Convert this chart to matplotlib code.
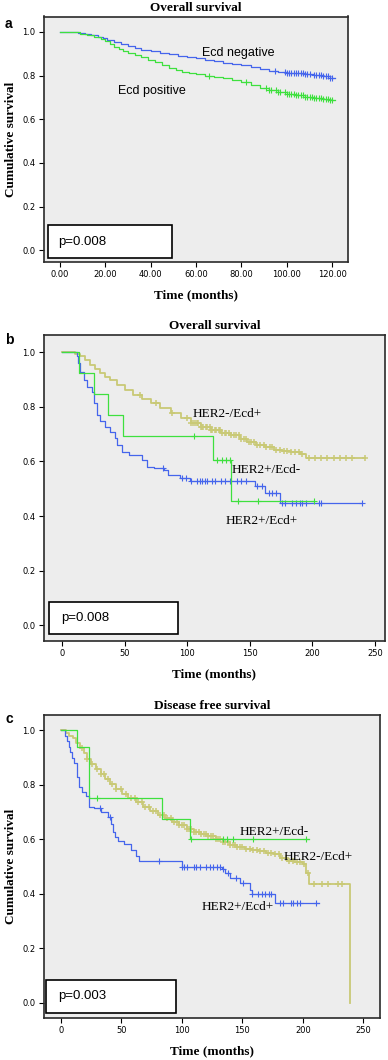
import matplotlib
matplotlib.use('Agg')
import matplotlib.pyplot as plt
from matplotlib.patches import Rectangle
import numpy as np

# ---- panel a: overall survival by Ecd status ----
a_neg_t = [0, 5, 8, 11, 14, 17, 19, 21, 24, 27, 30, 33, 36, 40, 44, 48, 52, 56, 60, 64, 68,
           72, 76, 80, 84, 88, 92, 96, 100, 104, 108, 112, 116, 119, 121]
a_neg_s = [1.0, 0.997, 0.994, 0.99, 0.984, 0.977, 0.97, 0.962, 0.955, 0.945, 0.935, 0.925,
           0.918, 0.91, 0.905, 0.897, 0.89, 0.884, 0.878, 0.87, 0.865, 0.858, 0.852, 0.846,
           0.838, 0.828, 0.822, 0.815, 0.812, 0.81, 0.808, 0.803, 0.797, 0.789, 0.789]
a_neg_c = [94.7, 99, 100, 101, 102, 103, 104, 105, 106, 107, 108, 109, 110, 112, 113, 114,
           115, 116, 117, 118, 119, 120]

a_pos_t = [0, 5, 9, 12, 15, 18, 20, 22, 24, 26, 28, 30, 33, 36, 39, 42, 45, 48, 51, 54, 57,
           60, 64, 68, 72, 76, 80, 84, 88, 92, 96, 100, 104, 108, 112, 116, 119, 121]
a_pos_s = [1.0, 0.997, 0.992, 0.985, 0.975, 0.965, 0.957, 0.945, 0.932, 0.92, 0.912, 0.905,
           0.895, 0.883, 0.873, 0.862, 0.848, 0.835, 0.825, 0.818, 0.812, 0.806, 0.8, 0.793,
           0.787, 0.78, 0.77, 0.758, 0.745, 0.735, 0.725, 0.716, 0.71, 0.704, 0.698, 0.693,
           0.689, 0.689]
a_pos_c = [65.8, 81.8, 91, 92, 93, 95, 96, 97, 99, 100, 101, 102, 103, 104, 105, 106, 107,
           108, 109, 110, 111, 112, 113, 114, 115, 116, 117, 118, 119, 120]

# ---- panel b: overall survival by HER2/Ecd ----
b_pn_t = [0, 13.8, 25.8, 36.5, 48.5, 121, 135, 201]          # HER2+/Ecd-
b_pn_s = [1.0, 0.923, 0.846, 0.769, 0.692, 0.606, 0.454, 0.454]
b_pn_c = [105.7, 124, 128, 131, 134, 140.8, 156.8, 201]

b_pp_t = [0, 11.7, 13, 14.7, 17.3, 20, 24, 25.3, 28, 30.7, 34.7, 38.7, 42, 44, 48, 53.4, 64,
          68, 73.6, 81.5, 85, 94, 102, 154, 162, 174, 240]   # HER2+/Ecd+
b_pp_s = [1.0, 0.985, 0.96, 0.929, 0.898, 0.874, 0.856, 0.813, 0.77, 0.748, 0.727, 0.709,
          0.685, 0.66, 0.636, 0.624, 0.605, 0.581, 0.575, 0.569, 0.55, 0.54, 0.53, 0.51,
          0.483, 0.447, 0.447]
b_pp_c = [80.4, 96, 99, 103, 108, 110, 112, 114, 116, 120, 122, 127, 130, 134, 140, 143, 147,
          156, 160, 165, 168, 171, 176, 178, 184, 187, 190, 192, 195, 205, 207, 240]

b_np_t = [0, 10, 14, 18, 22, 26, 30, 34, 38, 44, 50, 57, 64, 71, 78, 87, 95, 103, 111, 119,
          127, 135, 142, 148, 155, 162, 169, 176, 183, 190, 195, 242]  # HER2-/Ecd+
b_np_s = [1.0, 0.995, 0.985, 0.97, 0.953, 0.94, 0.925, 0.911, 0.897, 0.88, 0.862, 0.844,
          0.828, 0.813, 0.797, 0.777, 0.76, 0.742, 0.727, 0.715, 0.705, 0.695, 0.682, 0.672,
          0.662, 0.652, 0.642, 0.637, 0.633, 0.628, 0.612, 0.612]
b_np_c = [62, 75, 88, 100, 103, 105, 106, 108, 109, 111, 112, 113, 115, 116, 118, 119, 120,
          122, 123, 125, 126, 128, 130, 131, 133, 135, 137, 139, 141, 143, 145, 147, 149, 151,
          153, 156, 158, 161, 163, 166, 168, 171, 174, 177, 180, 183, 186, 189, 192, 197, 202,
          207, 212, 217, 222, 227, 232, 242]

# ---- panel c: disease free survival by HER2/Ecd ----
c_pn_t = [0, 13.7, 23.6, 83.4, 106.8, 205]
c_pn_s = [1.0, 0.9375, 0.75, 0.675, 0.60, 0.60]
c_pn_c = [29.6, 107.5, 134, 137, 142.6, 159, 203]

c_pp_t = [0, 3.6, 5, 6.5, 8, 9.5, 11.3, 13.2, 15.4, 18, 20.9, 23.6, 27.7, 33, 38.7, 41.5,
          42.8, 45, 47, 52.4, 58, 62, 65, 100, 133, 136, 140, 148, 156, 158, 177, 213]
c_pp_s = [1.0, 0.98, 0.96, 0.94, 0.92, 0.9, 0.88, 0.83, 0.79, 0.775, 0.76, 0.72, 0.713, 0.70,
          0.68, 0.655, 0.625, 0.61, 0.595, 0.582, 0.56, 0.54, 0.522, 0.50, 0.49, 0.475, 0.457,
          0.44, 0.415, 0.40, 0.366, 0.366]
c_pp_c = [32.5, 41, 81.5, 100, 102, 104, 110, 112, 115, 120, 123, 126, 129, 132, 134, 138,
          145, 151, 158, 163, 166, 169, 172, 174, 181, 184, 190, 192, 195, 198, 211]

c_np_t = [0, 4, 7, 10, 13, 16, 19, 22, 25, 29, 33, 37, 41, 46, 51, 56, 62, 68, 74, 80, 86, 92,
          98, 104, 110, 116, 122, 128, 134, 140, 146, 152, 158, 164, 170, 176, 181, 187, 193,
          200, 203, 205, 239]
c_np_s = [1.0, 0.99, 0.98, 0.97, 0.955, 0.935, 0.915, 0.895, 0.875, 0.857, 0.838, 0.82, 0.803,
          0.785, 0.765, 0.75, 0.735, 0.718, 0.703, 0.69, 0.677, 0.665, 0.652, 0.638, 0.628,
          0.62, 0.612, 0.602, 0.59, 0.578, 0.57, 0.565, 0.56, 0.556, 0.551, 0.545, 0.53, 0.52,
          0.516, 0.51, 0.475, 0.437, 0.0]
c_np_c = [18, 22, 26, 30, 33, 36, 39, 42, 46, 50, 54, 58, 61, 64, 67, 70, 73, 76, 79, 82, 85,
          88, 91, 94, 96, 98, 100, 102, 104, 106, 108, 110, 112, 114, 116, 118, 120, 122, 124,
          126, 128, 130, 132, 134, 136, 138, 140, 142, 144, 146, 148, 150, 153, 156, 159, 162,
          165, 168, 171, 174, 177, 180, 183, 186, 189, 192, 195, 198, 201, 204, 209, 216, 221,
          229, 232]

BLUE = '#4565ec'
GREEN = '#3ee03e'
TAN = '#c9c976'
BG = '#ededed'

serif = 'Liberation Serif'
sans = 'Liberation Sans'


def km(ax, t, s, cens, color, ms=4, lw=0.9, mew=0.8):
    t = np.asarray(t, float)
    s = np.asarray(s, float)
    ax.plot(t, s, drawstyle='steps-post', color=color, lw=lw)
    c = np.asarray(cens, float)
    idx = np.searchsorted(t, c, side='right') - 1
    ax.plot(c, s[idx], ls='none', marker='+', ms=ms, mew=mew, color=color)


def style(ax, xlim, ylim, xticks, xfmt, title, pval, box, ylabel=True):
    ax.set_facecolor(BG)
    ax.set_xlim(*xlim)
    ax.set_ylim(*ylim)
    ax.set_yticks([0.0, 0.2, 0.4, 0.6, 0.8, 1.0])
    ax.set_yticklabels(['%.1f' % v for v in [0.0, 0.2, 0.4, 0.6, 0.8, 1.0]])
    ax.set_xticks(xticks)
    ax.set_xticklabels([xfmt % v for v in xticks])
    ax.tick_params(direction='out', length=3.5, width=0.8, pad=2.5, labelsize=6,
                   top=False, right=False)
    for sp in ax.spines.values():
        sp.set_linewidth(1.2)
        sp.set_color('#2a2a2a')
    ax.set_title(title, family=serif, weight='bold', fontsize=9.5, pad=4)
    ax.set_xlabel('Time (months)', family=serif, weight='bold', fontsize=9.5, labelpad=7)
    if ylabel:
        ax.set_ylabel('Cumulative survival', family=serif, weight='bold', fontsize=9.5,
                      labelpad=4)
    x0, x1, y0, y1 = box
    ax.add_patch(Rectangle((x0, y0), x1 - x0, y1 - y0, transform=ax.transAxes,
                           facecolor='white', edgecolor='black', lw=1.2, zorder=5))
    ax.text(x0 + 0.035, (y0 + y1) / 2, pval, transform=ax.transAxes, family=sans,
            fontsize=9.5, va='center', ha='left', zorder=6)


W, H = 388, 1060
fig = plt.figure(figsize=(W / 100, H / 100), dpi=100)


def add_axes(l, r, t, b):
    return fig.add_axes([l / W, 1 - b / H, (r - l) / W, (b - t) / H])


# panel a
ax1 = add_axes(44, 348, 16.5, 262)
km(ax1, a_neg_t, a_neg_s, a_neg_c, BLUE)
km(ax1, a_pos_t, a_pos_s, a_pos_c, GREEN)
style(ax1, (-6.9, 126.9), (-0.053, 1.07), [0, 20, 40, 60, 80, 100, 120], '%.2f',
      'Overall survival', 'p=0.008', (0.012, 0.42, 0.017, 0.15))
ax1.text(62.6, 0.903, 'Ecd negative', family=sans, fontsize=9, va='center')
ax1.text(25.5, 0.729, 'Ecd positive', family=sans, fontsize=9, va='center')
fig.text(5 / W, 1 - 24 / H, 'a', family=sans, weight='bold', fontsize=10, va='center')

# panel b
ax2 = add_axes(44, 385, 335, 641)
km(ax2, b_np_t, b_np_s, b_np_c, TAN, ms=5, lw=1.3, mew=1.1)
km(ax2, b_pp_t, b_pp_s, b_pp_c, BLUE)
km(ax2, b_pn_t, b_pn_s, b_pn_c, GREEN)
style(ax2, (-14.4, 258.0), (-0.0575, 1.063), [0, 50, 100, 150, 200, 250], '%d',
      'Overall survival', 'p=0.008', (0.0155, 0.393, 0.022, 0.128), ylabel=False)
ax2.text(104.4, 0.774, 'HER2-/Ecd+', family=serif, fontsize=9.5, va='center')
ax2.text(135.5, 0.569, 'HER2+/Ecd-', family=serif, fontsize=9.5, va='center')
ax2.text(131, 0.382, 'HER2+/Ecd+', family=serif, fontsize=9.5, va='center')
fig.text(5 / W, 1 - 340 / H, 'b', family=sans, weight='bold', fontsize=10, va='center')

# panel c
ax3 = add_axes(44, 380, 715, 1018)
km(ax3, c_np_t, c_np_s, c_np_c, TAN, ms=5, lw=1.3, mew=1.1)
km(ax3, c_pp_t, c_pp_s, c_pp_c, BLUE)
km(ax3, c_pn_t, c_pn_s, c_pn_c, GREEN)
style(ax3, (-13.8, 263.8), (-0.056, 1.056), [0, 50, 100, 150, 200, 250], '%d',
      'Disease free survival', 'p=0.003', (0.006, 0.392, 0.0175, 0.125))
ax3.text(148, 0.626, 'HER2+/Ecd-', family=serif, fontsize=9.5, va='center')
ax3.text(184, 0.536, 'HER2-/Ecd+', family=serif, fontsize=9.5, va='center')
ax3.text(116.5, 0.35, 'HER2+/Ecd+', family=serif, fontsize=9.5, va='center')
fig.text(5 / W, 1 - 719 / H, 'c', family=sans, weight='bold', fontsize=10, va='center')

fig.savefig('out.png', dpi=100, facecolor='white')
